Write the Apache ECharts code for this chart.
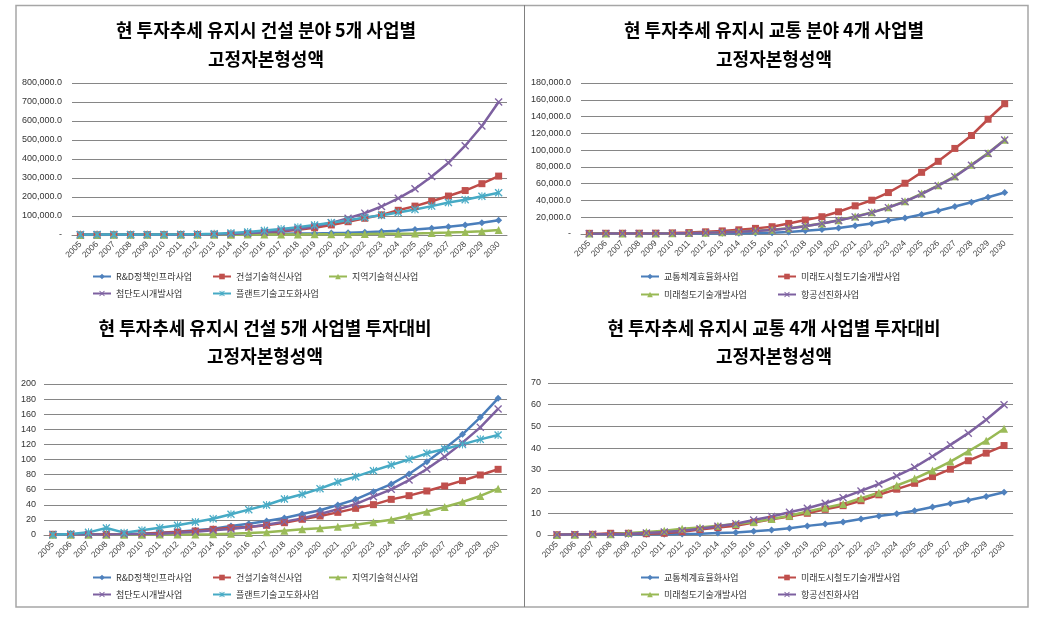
<!DOCTYPE html>
<html><head><meta charset="utf-8">
<script src="https://cdn.jsdelivr.net/npm/echarts@6/dist/echarts.min.js"></script>
<style>html,body{margin:0;padding:0;background:#fff}#c{width:1047px;height:626px}</style>
</head><body><div id="c"></div>
<script>
const years = ['2005','2006','2007','2008','2009','2010','2011','2012','2013','2014','2015','2016','2017','2018','2019','2020','2021','2022','2023','2024','2025','2026','2027','2028','2029','2030'];

const titles = [
  '현 투자추세 유지시 건설 분야 5개 사업별\n고정자본형성액',
  '현 투자추세 유지시 교통 분야 4개 사업별\n고정자본형성액',
  '현 투자추세 유지시 건설 5개 사업별 투자대비\n고정자본형성액',
  '현 투자추세 유지시 교통 4개 사업별 투자대비\n고정자본형성액'
];
const namesCon = ['R&D정책인프라사업','건설기술혁신사업','지역기술혁신사업','첨단도시개발사업','플랜트기술고도화사업'];
const namesTra = ['교통체계효율화사업','미래도시철도기술개발사업','미래철도기술개발사업','항공선진화사업'];

// Chart 1: construction, fixed capital formation
const c1Rnd   = [1500,1800,2000,2200,2500,2800,3200,3600,4000,4500,5000,5800,6500,7500,8500,10000,12000,15000,18000,23000,29000,36000,44000,53000,64000,78000];
const c1Tech  = [1000,1200,1400,1600,1800,2000,2400,3000,3800,5000,8000,12000,18000,27000,38000,53000,70000,88000,106000,130000,152000,178000,205000,234000,270000,310000];
const c1Reg   = [500,600,700,800,900,1000,1100,1300,1500,1700,2000,2300,2600,3000,3500,4000,4600,5300,6200,7200,8500,10500,13000,16000,20000,26000];
const c1City  = [800,900,1000,1200,1400,1600,1900,2300,3000,5000,9000,15000,22000,32000,46000,64000,88000,115000,150000,193000,243000,308000,380000,470000,574000,700000];
const c1Plant = [2000,2200,2400,2600,2800,3000,3500,4500,7000,11000,16000,24000,31000,41000,53000,65000,78000,92000,104000,118000,134000,152000,171000,186000,204000,222000];

// Chart 2: transport, fixed capital formation
const c2Eff   = [300,350,400,450,500,550,600,700,800,950,1200,1600,2400,4000,5500,7100,9900,12600,16000,19000,23300,27700,32800,37900,43900,49400];
const c2Urban = [800,850,900,950,1000,1300,1700,2600,3700,5000,6700,8700,12600,16600,20600,26500,33600,40300,49400,60500,73500,86600,102000,117400,136800,155300];
const c2Rail  = [500,550,600,650,700,900,1100,1600,2200,3000,3900,5000,7000,9600,12600,16300,20800,25800,31800,39000,48200,58000,68800,82500,96500,112500];
const c2Air   = [400,450,500,550,600,750,950,1400,2000,2700,3600,4700,6600,9300,12400,16000,20400,25500,31400,38600,47600,57600,68200,82000,96000,112000];

// Chart 3: construction, per investment
const c3Rnd   = [0.4,0.4,0.5,0.9,1.3,1.8,3.1,4.4,6.2,8.4,11.9,15.0,18.5,22.5,27.8,32.7,39.7,47.2,57.4,67.5,80.8,97.0,114.5,133.3,155.8,181.0];
const c3Tech  = [0.9,0.9,0.9,0.9,1.3,1.8,2.6,4.0,5.3,7.5,9.5,10.6,12.8,16.3,20.8,25.2,30.0,35.3,40.2,47.2,52.1,58.3,64.9,72.0,79.5,87.0];
const c3Reg   = [0.2,0.2,0.3,0.3,0.3,0.4,0.5,0.6,0.7,0.9,1.8,2.6,3.5,5.7,7.5,8.8,11.0,13.7,16.8,20.3,25.6,30.9,37.0,43.7,51.7,61.4];
const c3City  = [0.5,0.5,0.6,0.7,0.9,1.2,1.8,3.1,4.4,6.2,7.9,10.6,13.7,17.7,22.0,27.8,34.0,41.0,50.8,60.5,72.8,87.4,103.8,122.3,142.6,167.0];
const c3Plant = [0.4,1.3,3.5,9.3,3.1,6.2,9.7,12.8,17.2,21.6,27.4,33.6,39.7,47.7,53.9,61.4,70.2,77.3,85.2,92.7,100.2,108.2,114.0,120.0,126.7,132.5];

// Chart 4: transport, per investment
const c4Eff   = [0.2,0.2,0.2,0.2,0.3,0.3,0.3,0.5,0.6,0.9,1.2,1.7,2.3,3.1,4.2,5.1,6.0,7.4,8.8,9.8,11.2,12.9,14.5,16.0,17.7,19.7];
const c4Urban = [0.1,0.2,0.3,0.8,0.8,0.6,0.8,1.5,2.5,3.4,4.3,5.7,7.2,8.5,10.0,11.8,13.5,15.8,18.5,21.1,23.8,26.9,30.3,34.2,37.7,41.2];
const c4Rail  = [0.0,0.1,0.3,0.3,0.9,1.4,2.0,2.9,3.5,4.3,5.1,6.0,7.4,8.9,10.8,12.6,14.3,16.9,19.5,22.8,26.0,29.7,33.8,38.5,43.4,48.9];
const c4Air   = [0.1,0.2,0.3,0.4,0.6,0.9,1.4,2.0,2.9,4.0,5.2,6.9,8.5,10.5,12.3,14.6,17.2,20.3,23.5,27.2,31.2,36.2,41.5,46.9,53.1,60.0];

const X_PATH = 'path://M0,1.2L1.2,0L5,3.8L8.8,0L10,1.2L6.2,5L10,8.8L8.8,10L5,6.2L1.2,10L0,8.8L3.8,5Z';
const AST_PATH = 'path://M0,1.2L1.2,0L5,3.8L8.8,0L10,1.2L6.2,5L10,8.8L8.8,10L5,6.2L1.2,10L0,8.8L3.8,5Z M4.4,0L5.6,0L5.6,10L4.4,10Z';
const styles = {
  blue:   {line:'#4A7EBB', mark:'#4F81BD', symbol:'diamond', size:7},
  red:    {line:'#BE4B48', mark:'#C0504D', symbol:'rect', size:7},
  green:  {line:'#98B954', mark:'#9BBB59', symbol:'triangle', size:8},
  purple: {line:'#7D60A0', mark:'#8064A2', symbol:X_PATH, size:8},
  cyan:   {line:'#46AAC5', mark:'#4BACC6', symbol:AST_PATH, size:8}
};

const chart = echarts.init(document.getElementById('c'));
const FONT = '"Noto Sans CJK KR", "Noto Sans", sans-serif';

const grids = [
  {left:72, top:83, width:435, height:152},
  {left:581, top:83, width:432, height:151},
  {left:44, top:384, width:463, height:151},
  {left:548, top:383, width:465, height:152}
];
const yCfg = [
  {max:800000, interval:100000, fmt:v => v===0 ? '-' : v.toLocaleString('en-US',{minimumFractionDigits:1,maximumFractionDigits:1}), margin:10},
  {max:180000, interval:20000, fmt:v => v===0 ? '-' : v.toLocaleString('en-US',{minimumFractionDigits:1,maximumFractionDigits:1}), margin:10},
  {max:200, interval:20, fmt:v => String(v), margin:8},
  {max:70, interval:10, fmt:v => String(v), margin:7}
];

const xAxis = grids.map((g,i) => ({
  type:'category', gridIndex:i, data:years, boundaryGap:true,
  axisLine:{show:true, lineStyle:{color:'#868686', width:1}},
  axisTick:{show:false},
  axisLabel:{rotate:45, fontSize:8.5, color:'#444', fontFamily:'"Liberation Sans", sans-serif', margin:8, interval:0}
}));
const yAxis = yCfg.map((c,i) => ({
  type:'value', gridIndex:i, min:0, max:c.max, interval:c.interval,
  axisLine:{show:false}, axisTick:{show:false},
  splitLine:{show:true, lineStyle:{color:'#868686', width:1}},
  axisLabel:{formatter:c.fmt, fontSize:9, color:'#333', fontFamily:'"Liberation Sans", sans-serif', margin:c.margin}
}));

function mk(name, data, st, idx){
  const s = styles[st];
  return {name, type:'line', data, xAxisIndex:idx, yAxisIndex:idx,
    symbol:s.symbol, symbolSize:s.size, showSymbol:true,
    lineStyle:{color:s.line, width:2.5}, itemStyle:{color:s.mark},
    emphasis:{disabled:true}, animation:false, z:2};
}
const series = [
  mk(namesCon[0], c1Rnd, 'blue', 0), mk(namesCon[1], c1Tech, 'red', 0), mk(namesCon[2], c1Reg, 'green', 0), mk(namesCon[3], c1City, 'purple', 0), mk(namesCon[4], c1Plant, 'cyan', 0),
  mk(namesTra[0], c2Eff, 'blue', 1), mk(namesTra[1], c2Urban, 'red', 1), mk(namesTra[2], c2Rail, 'green', 1), mk(namesTra[3], c2Air, 'purple', 1),
  mk(namesCon[0], c3Rnd, 'blue', 2), mk(namesCon[1], c3Tech, 'red', 2), mk(namesCon[2], c3Reg, 'green', 2), mk(namesCon[3], c3City, 'purple', 2), mk(namesCon[4], c3Plant, 'cyan', 2),
  mk(namesTra[0], c4Eff, 'blue', 3), mk(namesTra[1], c4Urban, 'red', 3), mk(namesTra[2], c4Rail, 'green', 3), mk(namesTra[3], c4Air, 'purple', 3)
];

const title = [
  {text:titles[0], left:266, top:16},
  {text:titles[1], left:774, top:16},
  {text:titles[2], left:265, top:313.5},
  {text:titles[3], left:774, top:313.5}
].map(t => ({...t, padding:0, textAlign:'center', textStyle:{fontSize:18, fontWeight:'bold', color:'#000', fontFamily:FONT, lineHeight:28.5}}));

function lg(name, left, top){
  return {data:[name], left, top, orient:'horizontal', itemWidth:18, itemHeight:7, itemGap:5, padding:0,
    textStyle:{fontSize:9, color:'#333', fontFamily:FONT}, selectedMode:false};
}
const legend = [
  lg(namesCon[0], 92, 272), lg(namesCon[1], 212, 272), lg(namesCon[2], 328, 272), lg(namesCon[3], 92, 289), lg(namesCon[4], 212, 289),
  lg(namesTra[0], 640, 272), lg(namesTra[1], 777, 272), lg(namesTra[2], 640, 290), lg(namesTra[3], 777, 290),
  lg(namesCon[0], 92, 573), lg(namesCon[1], 212, 573), lg(namesCon[2], 328, 573), lg(namesCon[3], 92, 590), lg(namesCon[4], 212, 590),
  lg(namesTra[0], 640, 573), lg(namesTra[1], 777, 573), lg(namesTra[2], 640, 590), lg(namesTra[3], 777, 590)
];

const graphic = [
  {type:'rect', shape:{x:16, y:5.5, width:1012, height:601.5}, style:{fill:'none', stroke:'#a6a6a6', lineWidth:1.5}, silent:true, z:-1},
  {type:'line', shape:{x1:524.5, y1:5, x2:524.5, y2:607}, style:{stroke:'#808080', lineWidth:1}, silent:true, z:-1}
];

chart.setOption({animation:false, grid:grids, xAxis, yAxis, series, title, legend, graphic});
</script></body></html>
